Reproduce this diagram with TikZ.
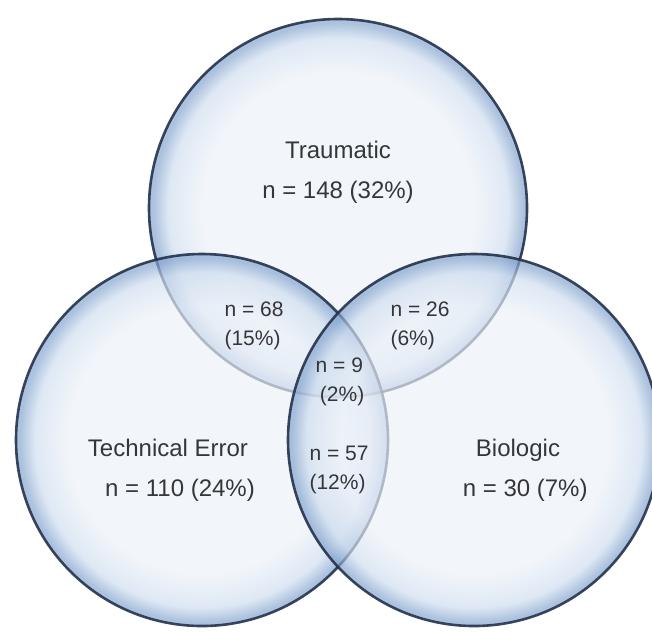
\documentclass[tikz,border=0pt]{standalone}
\usepackage{fontspec}
\setsansfont{Liberation Sans}

\definecolor{venncore}{RGB}{236,241,248}
\definecolor{vennhalo}{RGB}{206,221,239}
\definecolor{vennrim}{RGB}{132,164,206}
\definecolor{vennline}{RGB}{36,50,76}
\definecolor{venntext}{RGB}{52,54,58}
\pgfdeclareradialshading{vennglass}{\pgfpoint{0bp}{0bp}}{%
    color(0bp)=(venncore); color(18bp)=(venncore); color(22.5bp)=(vennhalo);
    color(24.5bp)=(vennrim); color(25bp)=(vennrim); color(50bp)=(vennrim)}

\begin{document}
\begin{tikzpicture}[x=0.5pt, y=-0.5pt,
        % styles
        venn/.style = {
                circle, inner sep=0pt,
                %minimum size set per circle
                draw=vennline, line width=1.3pt, draw opacity=0.9,
                shading=vennglass, fill opacity=0.68
            },
        group/.style = {
                text=venntext, align=center,
                font=\sffamily\fontsize{12}{20}\selectfont
            },
        overlap/.style = {
                text=venntext, align=left,
                font=\sffamily\fontsize{10.5}{14.5}\selectfont
            }]

    \useasboundingbox (0,0) rectangle (652,632);
    \clip (0,0) rectangle (652,632);

    % circles
    \node (traumatic) [venn, minimum size=189pt] at (338,208) {};
    \node (technical) [venn, minimum size=186pt] at (202,440) {};
    \node (biologic) [venn, minimum size=186pt] at (474,440) {};

    % groups
    \node (traumatic_n) [group] at (338,172) {Traumatic\\n = 148 (32\%)};
    \node (technical_n) [group] at (168,470) {Technical Error\\\hspace*{1em}n = 110 (24\%)};
    \node (biologic_n) [group] at (518,470) {Biologic\\\hspace*{0.6em}n = 30 (7\%)};

    % overlaps
    \node (trau_tech) [overlap] at (254,326) {n = 68\\(15\%)};
    \node (trau_bio) [overlap] at (420,326) {n = 26\\(6\%)};
    \node (all_three) [overlap] at (340,382) {n = 9\\\hspace*{0.2em}(2\%)};
    \node (tech_bio) [overlap] at (339,470) {n = 57\\(12\%)};
\end{tikzpicture}
\end{document}
